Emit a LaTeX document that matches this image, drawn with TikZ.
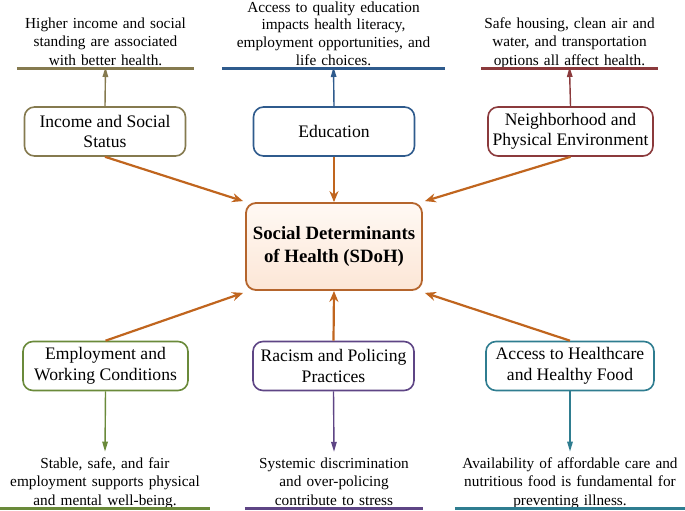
\documentclass[tikz,border=0pt]{standalone}
\usepackage{fontspec}
\setmainfont{Liberation Serif}
\usetikzlibrary{arrows.meta}
\definecolor{cInc}{HTML}{857A4F}
\definecolor{cEdu}{HTML}{2F5B8D}
\definecolor{cNei}{HTML}{8B3A3C}
\definecolor{cEmp}{HTML}{6A8A3A}
\definecolor{cRac}{HTML}{5E4585}
\definecolor{cAcc}{HTML}{2F7D90}
\definecolor{cOra}{HTML}{C0651E}
\definecolor{cCenB}{HTML}{B5652C}
\definecolor{cCenT}{HTML}{FFF9F4}
\definecolor{cCenBo}{HTML}{FCE6D6}
\newcommand{\mydesc}{\vphantom{p}}
\tikzset{
  catbox/.style={draw=#1, line width=1.6pt, rounded corners=10pt, minimum width=161pt,
    minimum height=49pt, align=center, fill=white, inner sep=2pt,
    font=\fontsize{17.6}{20.5}\selectfont},
  descnode/.style={align=center, inner xsep=0pt, inner ysep=0pt,
    text width=#1, anchor=south, font=\fontsize{15.3}{18.2}\selectfont},
  uline/.style={line width=2.6pt},
  feed/.style={-{Stealth[length=11pt,width=9pt]}, line width=2.2pt, draw=cOra},
  thinarrow/.style={-{Triangle[length=10pt,width=5.5pt]}, line width=1.4pt, draw=#1, fill=#1}
}
\begin{document}
\begin{tikzpicture}[x=1pt,y=-1pt]
\useasboundingbox (0,0) rectangle (685,511);
% center
\node[draw=cCenB, line width=1.8pt, rounded corners=10pt, minimum width=176pt, minimum height=87pt,
  top color=cCenT, bottom color=cCenBo, align=center, font=\fontsize{18.8}{22.5}\selectfont\bfseries]
  (sdoh) at (334,246.5) {Social Determinants\\of Health (SDoH)};
% category boxes
\node[catbox=cInc] (inc) at (105,131.5) {Income and Social\\Status};
\node[catbox=cEdu] (edu) at (334,131.5) {Education};
\node[catbox=cNei, minimum width=165pt] (nei) at (570.5,131.5) {Neighborhood and\\Physical Environment};
\node[catbox=cEmp, minimum width=165pt] (emp) at (105.5,366) {Employment and\\Working Conditions};
\node[catbox=cRac] (rac) at (333.5,366) {Racism and Policing\\Practices};
\node[catbox=cAcc, minimum width=168pt] (acc) at (570,366) {Access to Healthcare\\and Healthy Food};
% descriptions
\node[descnode=177pt] (dinc) at (105.5,68.5) {Higher income and social\\standing are associated\\with better health.\mydesc};
\node[descnode=223pt, font=\fontsize{15.3}{17.6}\selectfont] (dedu) at (333.5,68.5) {Access to quality education\\impacts health literacy,\\employment opportunities, and\\life choices.\mydesc};
\node[descnode=177pt] (dnei) at (569.5,68.5) {Safe housing, clean air and\\water, and transportation\\options all affect health.\mydesc};
\node[descnode=210pt] (demp) at (105,508.5) {Stable, safe, and fair\\employment supports physical\\and mental well-being.\mydesc};
\node[descnode=178pt] (drac) at (334,508.5) {Systemic discrimination\\and over-policing\\contribute to stress\mydesc};
\node[descnode=230pt] (dacc) at (570,508.5) {Availability of affordable care and\\nutritious food is fundamental for\\preventing illness.\mydesc};
% underlines
\draw[uline, cInc] (dinc.south west) -- (dinc.south east);
\draw[uline, cEdu] (dedu.south west) -- (dedu.south east);
\draw[uline, cNei] (dnei.south west) -- (dnei.south east);
\draw[uline, cEmp] (demp.south west) -- (demp.south east);
\draw[uline, cRac] (drac.south west) -- (drac.south east);
\draw[uline, cAcc] (dacc.south west) -- (dacc.south east);
% thin arrows
\draw[thinarrow=cInc] (inc.north) -- ([yshift=1.5pt]dinc.south);
\draw[thinarrow=cEdu] (edu.north) -- ([yshift=1.5pt]dedu.south);
\draw[thinarrow=cNei] (nei.north) -- ([yshift=1.5pt]dnei.south);
\draw[thinarrow=cEmp] (emp.south) -- ([yshift=6pt]demp.north);
\draw[thinarrow=cRac] (rac.south) -- ([yshift=6pt]drac.north);
\draw[thinarrow=cAcc] (acc.south) -- ([yshift=6pt]dacc.north);
% feeding arrows
\draw[feed] (inc.south) -- ([shift={(-2pt,1pt)}]sdoh.north west);
\draw[feed] (edu.south) -- (sdoh.north);
\draw[feed] (nei.south) -- ([shift={(2pt,1pt)}]sdoh.north east);
\draw[feed] (emp.north) -- ([shift={(-2pt,-2pt)}]sdoh.south west);
\draw[feed] (rac.north) -- (sdoh.south);
\draw[feed] (acc.north) -- ([shift={(2pt,-2pt)}]sdoh.south east);
\end{tikzpicture}
\end{document}
